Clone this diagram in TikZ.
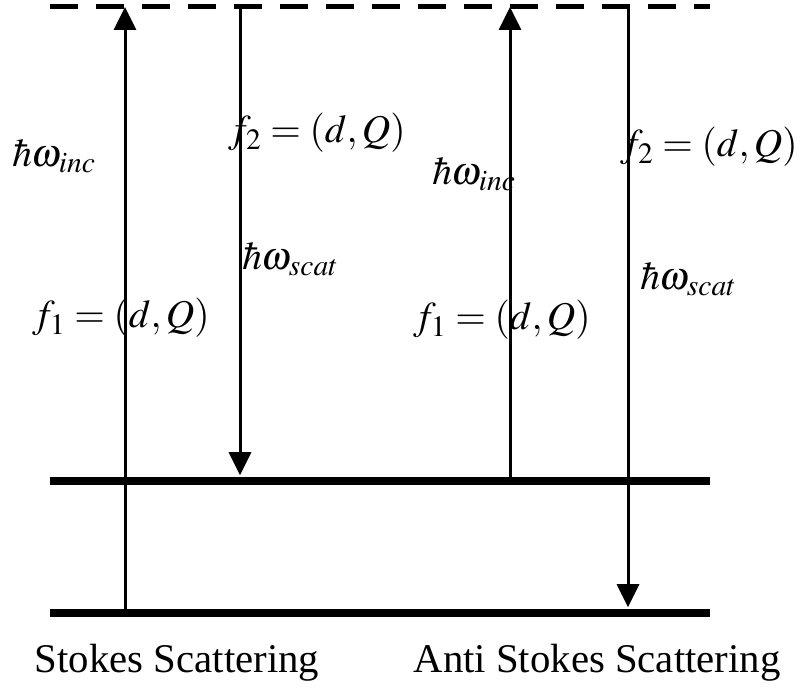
\documentclass[tikz,border=0pt]{standalone}
\usepackage{amsmath}
\usepackage{mathptmx}
\usepackage[no-math]{fontspec}
\setmainfont{Liberation Serif}
\usepackage{tikz}
\usetikzlibrary{arrows.meta}
\DeclareMathSizes{28}{28}{21}{16}

\begin{document}
\begin{tikzpicture}[energy/.style={line width=0.18cm},
photon/.style={-{Triangle[length=0.575cm,width=0.55cm]},line width=0.075cm},
lab/.style={inner sep=0pt,font=\fontsize{28}{34}\selectfont},
txt/.style={inner sep=0pt,font=\fontsize{29}{34}\selectfont}]
\useasboundingbox(0,0)rectangle(20.075,17.15);
\coordinate(vl)at(1.25,16.975);
\coordinate(vr)at(17.75,16.975);
\coordinate(ml)at(1.25,5.125);
\coordinate(mr)at(17.75,5.125);
\coordinate(gl)at(1.25,1.825);
\coordinate(gr)at(17.75,1.825);
\draw[line width=0.125cm,dash pattern=on 0.7cm off 0.45cm](vl)--(vr);
\draw[energy](ml)--(mr);
\draw[energy](gl)--(gr);
\coordinate(a1)at(3.125,1.825);
\coordinate(b1)at(3.125,16.975);
\coordinate(a2)at(6,16.975);
\coordinate(b2)at(6,5.27);
\coordinate(a3)at(12.75,5.025);
\coordinate(b3)at(12.75,16.975);
\coordinate(a4)at(15.7,16.975);
\coordinate(b4)at(15.7,1.97);
\draw[photon](a1)--(b1);
\draw[photon](a2)--(b2);
\draw[photon](a3)--(b3);
\draw[photon](a4)--(b4);
\node[lab,anchor=base west](inc1)at(0.3,12.975){$\hbar\omega_{inc}$};
\node[lab,anchor=base west](fb1)at(5.7,13.575){$f_2=(d,Q)$};
\node[lab,anchor=base west](sc1)at(6.05,10.4){$\hbar\omega_{scat}$};
\node[lab,anchor=base west](fa1)at(0.8,8.95){$f_1=(d,Q)$};
\node[lab,anchor=base west](inc2)at(10.8,12.525){$\hbar\omega_{inc}$};
\node[lab,anchor=base west](fb2)at(15.5,13.225){$f_2=(d,Q)$};
\node[lab,anchor=base west](sc2)at(16.0,9.9){$\hbar\omega_{scat}$};
\node[lab,anchor=base west](fa2)at(10.325,8.9){$f_1=(d,Q)$};
\node[txt,anchor=base](st)at(4.425,0.35){Stokes Scattering};
\node[txt,anchor=base](ast)at(14.925,0.35){Anti Stokes Scattering};
\end{tikzpicture}
\end{document}
